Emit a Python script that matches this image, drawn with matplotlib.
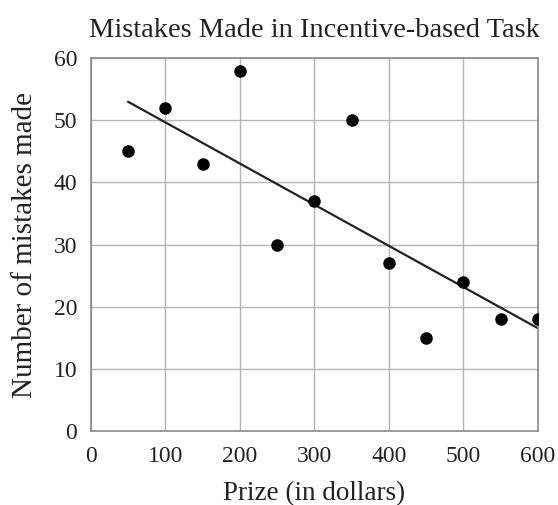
import numpy as np
import matplotlib
matplotlib.use("Agg")
import matplotlib.pyplot as plt

# Data
prize = [50, 100, 150, 200, 250, 300, 350, 400, 450, 500, 550, 600]
mistakes = [45, 52, 43, 58, 30, 37, 50, 27, 15, 24, 18, 18]
x_ticks = [0, 100, 200, 300, 400, 500, 600]
y_ticks = [0, 10, 20, 30, 40, 50, 60]

plt.rcParams["font.family"] = ["Liberation Serif", "DejaVu Serif"]

fig = plt.figure(figsize=(5.58, 5.05), dpi=100)
ax = fig.add_axes([0.163, 0.1465, 0.801, 0.7385])

# Scatter points
ax.plot(prize, mistakes, "o", color="black", markersize=8, zorder=3)

# Least-squares trend line
slope, intercept = np.polyfit(prize, mistakes, 1)
fit_x = np.array([prize[0], prize[-1]])
ax.plot(fit_x, slope * fit_x + intercept, color="#222222", linewidth=1.6, zorder=2)

ax.set_xlim(0, 600)
ax.set_ylim(0, 60)
ax.set_xticks(x_ticks)
ax.set_yticks(y_ticks)
ax.tick_params(length=0, labelsize=17, colors="#222222")
ax.tick_params(axis="x", pad=11)
ax.tick_params(axis="y", pad=10)
ax.grid(True, color="#b5b5b5", linewidth=1.0)
for s in ax.spines.values():
    s.set_color("#8a8a8a")
    s.set_linewidth(1.2)

ax.set_title("Mistakes Made in Incentive-based Task", fontsize=20.5, color="#222222", pad=15)
ax.set_xlabel("Prize (in dollars)", fontsize=19.5, color="#222222", labelpad=10)
ax.set_ylabel("Number of mistakes made", fontsize=21, color="#222222", labelpad=11)

fig.savefig("out.png", dpi=100)
